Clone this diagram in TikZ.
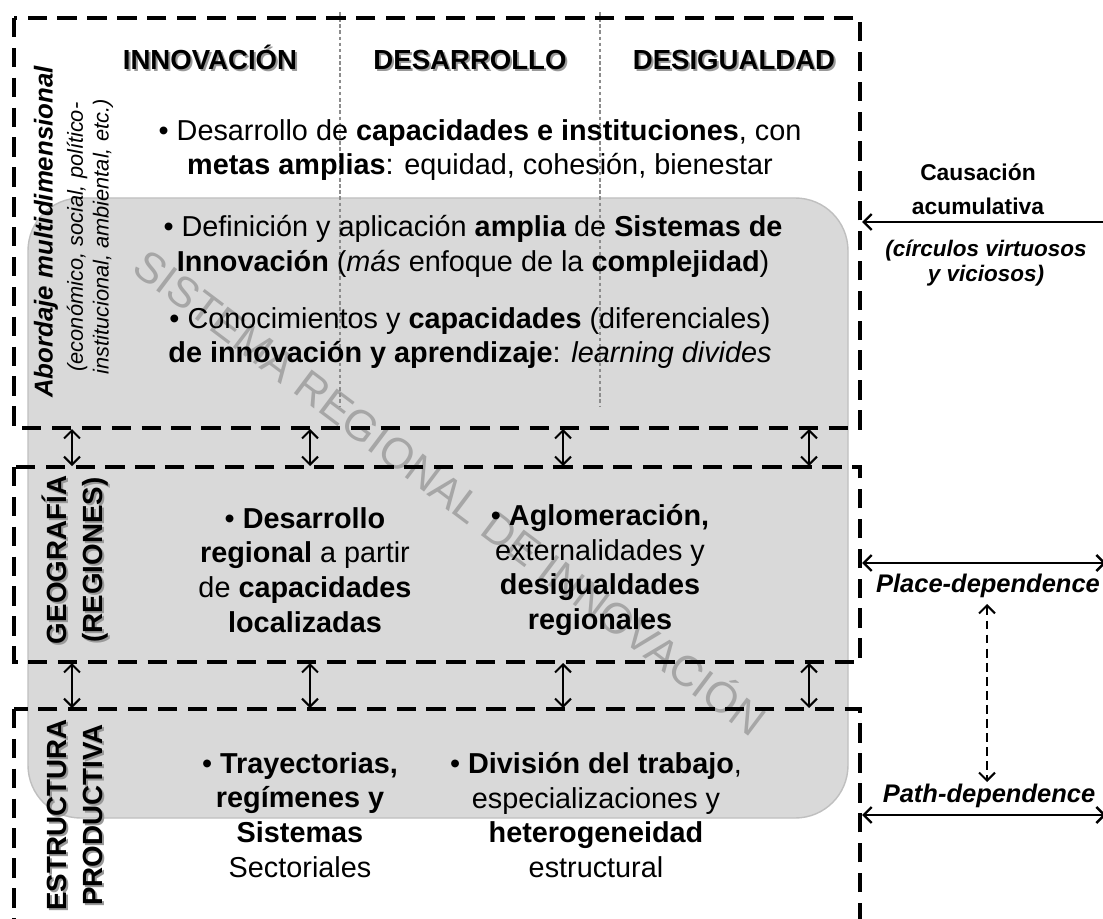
\documentclass[tikz,border=0pt]{standalone}
\usepackage{fontspec}
\setmainfont{Liberation Sans}
\usetikzlibrary{arrows.meta}
\definecolor{panel}{HTML}{D9D9D9}
\definecolor{panelborder}{HTML}{BFBFBF}
\definecolor{wmgray}{HTML}{A6A6A6}
\begin{document}
\begin{tikzpicture}[x=0.02cm,y=-0.02cm,
  box/.style={draw=black, line width=2.6pt, dash pattern=on 11pt off 6pt},
  sep/.style={draw=black!45, line width=0.6pt, dash pattern=on 2pt off 1.5pt},
  tip/.tip={Straight Barb[length=4.5pt,width=9pt]},
  dbl/.style={line width=1.2pt, tip-tip},
  dbldash/.style={line width=1.2pt, tip-tip, dash pattern=on 5pt off 3pt},
  larrow/.style={line width=1.4pt, -tip},
  body/.style={font=\fontsize{16.4}{19.8}\selectfont, align=center, inner sep=0pt, text=black},
  hdr/.style={font=\fontsize{15.7}{18}\selectfont\bfseries, inner sep=0pt, text=black, anchor=base},
  shadow/.style={text=black!40},
  vlab/.style={font=\fontsize{14.7}{16}\selectfont\bfseries\itshape, inner sep=0pt, rotate=90},
  vsub/.style={font=\fontsize{12.4}{14.7}\selectfont\itshape, align=center, inner sep=0pt, rotate=90},
  vcap/.style={font=\fontsize{15.8}{20.4}\selectfont\bfseries, align=center, inner sep=0pt, rotate=90},
  rlab/.style={font=\fontsize{13}{19.3}\selectfont\bfseries, align=center, inner sep=0pt},
  rsub/.style={font=\fontsize{12.8}{14}\selectfont\bfseries\itshape, align=center, inner sep=0pt},
  rdep/.style={font=\fontsize{14.5}{16}\selectfont\bfseries\itshape, inner sep=0pt},
  wm/.style={font=\fontsize{24.5}{26}\selectfont, text=wmgray, inner sep=0pt}
]
\useasboundingbox (0,0) rectangle (1103,919);
\begin{scope}
\clip (0,0) rectangle (1103,919);

% gray panel
\path[fill=panel, draw=panelborder, line width=0.8pt, rounded corners=30pt] (28,198) rectangle (848,818);

% watermark
\node[wm, rotate=-37] (wm) at (452,490) {SISTEMA REGIONAL DE INNOVACIÓN};

% column separators
\coordinate (s1t) at (340,12); \coordinate (s1b) at (340,406);
\coordinate (s2t) at (600,12); \coordinate (s2b) at (600,406);
\draw[sep] (s1t) -- (s1b);
\draw[sep] (s2t) -- (s2b);

% dashed boxes
\draw[box] (14,18) rectangle (860,428);
\draw[box] (14,467) rectangle (860,662);
\draw[box] (14,709) rectangle (860,960);

% headers
\node[hdr, shadow] (h1s) at (212,72) {INNOVACIÓN};
\node[hdr] (h1) at (210,70) {INNOVACIÓN};
\node[hdr, shadow] (h2s) at (472,72) {DESARROLLO};
\node[hdr] (h2) at (470,70) {DESARROLLO};
\node[hdr, shadow] (h3s) at (736,72) {DESIGUALDAD};
\node[hdr] (h3) at (734,70) {DESIGUALDAD};

% top texts
\node[body] (t1) at (480,150) {• Desarrollo de \textbf{capacidades e instituciones}, con\\ \textbf{metas amplias}: equidad, cohesión, bienestar};
\node[body] (t2) at (473,246) {• Definición y aplicación \textbf{amplia} de \textbf{Sistemas de}\\ \textbf{Innovación} (\textit{más} enfoque de la \textbf{complejidad})};
\node[body] (t3) at (470,338) {• Conocimientos y \textbf{capacidades} (diferenciales)\\ \textbf{de innovación y aprendizaje}: \textit{learning divides}};

% vertical labels
\node[vlab] (abd) at (46,232) {Abordaje multidimensional};
\node[vsub] (abs) at (90,237) {(económico, social, político-\\institucional, ambiental, etc.)};
\node[vcap, shadow] (geos) at (77,562) {GEOGRAFÍA\\(REGIONES)};
\node[vcap] (geo) at (75,560) {GEOGRAFÍA\\(REGIONES)};
\node[vcap, shadow] (ests) at (77,817) {ESTRUCTURA\\PRODUCTIVA};
\node[vcap] (est) at (75,815) {ESTRUCTURA\\PRODUCTIVA};

% middle texts
\node[body] (m1) at (305,570) {• \textbf{Desarrollo}\\ \textbf{regional} a partir\\ de \textbf{capacidades}\\ \textbf{localizadas}};
\node[body] (m2) at (600,570) {• \textbf{Aglomeración,}\\ externalidades y\\ \textbf{desigualdades}\\ \textbf{regionales}};

% bottom texts
\node[body] (b1) at (300,815) {• \textbf{Trayectorias,}\\ \textbf{regímenes y}\\ \textbf{Sistemas}\\ Sectoriales};
\node[body] (b2) at (596,815) {• \textbf{División del trabajo},\\ especializaciones y\\ \textbf{heterogeneidad}\\ estructural};

% arrows between boxes
\foreach \i/\x in {1/72,2/310,3/563,4/809}{
  \coordinate (u\i t) at (\x,429);
  \coordinate (u\i b) at (\x,466);
  \draw[dbl] (u\i t) -- (u\i b);
  \coordinate (d\i t) at (\x,663);
  \coordinate (d\i b) at (\x,708);
  \draw[dbl] (d\i t) -- (d\i b);
}

% right side
\node[rlab] (caus) at (978,189) {Causación\\acumulativa};
\node[rsub] (circ) at (986,263) {(círculos virtuosos\\y viciosos)};
\coordinate (cR) at (1110,222);
\coordinate (cL) at (862,222);
\draw[larrow] (cR) -- (cL);

\coordinate (pL) at (862,563);
\coordinate (pR) at (1106,563);
\draw[line width=1.4pt, tip-tip] (pL) -- (pR);
\node[rdep] (place) at (988,586) {Place-dependence};

\node[rdep] (path) at (989,796) {Path-dependence};
\coordinate (qL) at (862,815);
\coordinate (qR) at (1106,815);
\draw[line width=1.4pt, tip-tip] (qL) -- (qR);

\coordinate (dd1) at (987,604);
\coordinate (dd2) at (987,782);
\draw[dbldash] (dd1) -- (dd2);
\end{scope}
\end{tikzpicture}
\end{document}
